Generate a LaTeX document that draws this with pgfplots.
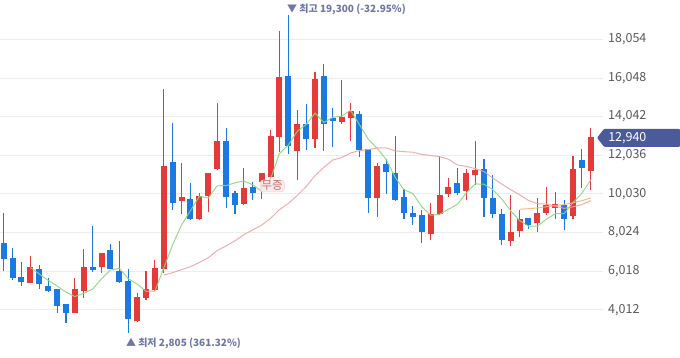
\documentclass[border=0pt]{standalone}
\usepackage{pgfplots}
\pgfplotsset{compat=1.18}
\usepackage{pgfplotstable}
\usepackage{fontspec}
\setmainfont{Noto Sans CJK KR}
\definecolor{upred}{HTML}{E53A3A}
\definecolor{dnblue}{HTML}{1B79E2}
\definecolor{maA}{HTML}{8CD67E}
\definecolor{maB}{HTML}{F2A3A3}
\definecolor{maC}{HTML}{F5B67E}
\definecolor{tagc}{HTML}{4A5A9A}
\definecolor{annc}{HTML}{6E78A8}
\definecolor{mujc}{HTML}{C86E6E}

% up (red) candles: index, open, high, low, close
\pgfplotstableread{
i o h l c
3 5428 6813 5397 6190
8 3872 5657 3860 5050
9 5013 7161 4619 6190
11 6227 6984 5947 6917
15 3442 4878 3400 4671
16 4650 6051 4531 5050
17 5050 6606 5000 6175
18 6139 15460 5947 11482
20 9682 11653 8976 9837
22 8717 10097 8680 9889
23 9926 11134 9111 11067
24 11310 14734 11250 12742
27 9510 11362 9459 10325
29 10667 11100 9770 11067
30 10927 13349 10900 13038
31 13001 18484 12223 16082
33 12275 14386 10755 13645
35 12866 16373 12431 15994
38 13748 15942 13660 14008
39 13987 14765 12778 14319
42 9837 11622 8836 11482
48 7954 9547 7643 8940
49 8992 12000 8950 9926
50 10013 10874 9889 10377
52 10200 11310 9718 11067
53 11014 12778 10496 11274
57 7607 9977 7347 8022
58 8126 9199 7783 8717
60 8509 9806 8043 8992
61 9028 10377 8940 9407
62 9319 10117 8717 9459
64 8888 12000 8717 11310
66 11238 13437 10236 12940
}\upT

% down (blue) candles: index, open, high, low, close
\pgfplotstableread{
i o h l c
0 7435 9028 6035 6657
1 6657 7212 5568 5688
2 5708 6517 5257 5480
4 6123 6331 5086 5345
5 5205 5688 4961 5013
6 5050 5117 3841 4235
7 4272 4308 3322 3872
10 6227 8369 5999 6087
12 7073 7436 6120 6139
13 5983 7591 5428 5480
14 5480 6123 2805 3530
19 11653 13696 9199 9578
21 9754 10615 8681 8717
25 12742 13468 9287 9858
26 10029 10185 8992 9474
28 10377 10667 9718 10097
32 16150 19300 12104 12519
34 13660 14682 12311 12866
36 16150 16772 12275 13645
37 13956 14474 12483 13831
40 14179 14350 11933 12296
41 12348 12363 9028 9837
43 11549 11845 10029 11155
44 11067 13038 9680 9718
45 9837 10289 8732 9028
46 9028 9407 8421 8852
47 8904 9199 7503 8074
51 10584 11362 9977 10097
54 11326 11829 8852 9837
55 9806 11014 8769 8976
56 8976 9236 7384 7643
59 8732 8750 8198 8421
63 9422 9718 8162 8717
65 11793 12348 10325 11393
}\dnT

\begin{document}
\begin{tikzpicture}
\begin{axis}[
  scale only axis, width=603pt, height=358pt,
  xmin=-0.371, xmax=67.38, ymin=1523, ymax=20092,
  clip=false,
  axis line style={draw=none},
  xtick=\empty,
  scaled y ticks=false,
  ytick={4012,6018,8024,10030,12036,14042,16048,18054},
  yticklabels={{4,012},{6,018},{8,024},{10,030},{12,036},{14,042},{16,048},{18,054}},
  yticklabel pos=right,
  major tick length=0pt,
  yticklabel style={anchor=west, inner sep=0pt, xshift=5pt, font=\fontsize{12.5}{14}\selectfont, text=black!65},
  ymajorgrids,
  grid style={color=black!7, line width=0.8pt},
  candle/.style={only marks, mark=*, mark size=0pt, mark options={draw opacity=0, fill opacity=0}},
]
% wicks
\addplot[candle, error bars/.cd, y dir=plus, y explicit, error mark=none,
  error bar style={upred, line width=1.1pt}]
  table[x=i, y=l, y error plus expr=\thisrow{h}-\thisrow{l}] \upT;
\addplot[candle, error bars/.cd, y dir=plus, y explicit, error mark=none,
  error bar style={dnblue, line width=1.1pt}]
  table[x=i, y=l, y error plus expr=\thisrow{h}-\thisrow{l}] \dnT;
% bodies
\addplot[candle, error bars/.cd, y dir=plus, y explicit, error mark=none,
  error bar style={upred, line width=6pt}]
  table[x=i, y=o, y error plus expr=\thisrow{c}-\thisrow{o}+20] \upT;
\addplot[candle, error bars/.cd, y dir=plus, y explicit, error mark=none,
  error bar style={dnblue, line width=6pt}]
  table[x=i, y=c, y error plus expr=\thisrow{o}-\thisrow{c}+20] \dnT;
% moving averages
\addplot[maA, line width=1pt, opacity=0.9] coordinates {(3,6211)(4,5872)(5,5543)(6,5253)(7,4931)(8,4703)(9,4872)(10,5087)(11,5623)(12,6077)(13,6163)(14,5631)(15,5347)(16,4974)(17,4981)(18,6182)(19,7391)(20,8424)(21,9158)(22,9901)(23,9818)(24,10450)(25,10455)(26,10606)(27,10693)(28,10499)(29,10164)(30,10800)(31,12122)(32,12561)(33,13270)(34,13630)(35,14221)(36,13734)(37,13996)(38,14069)(39,14359)(40,13620)(41,12858)(42,12388)(43,11818)(44,10898)(45,10244)(46,10047)(47,9365)(48,8922)(49,8964)(50,9234)(51,9483)(52,10081)(53,10548)(54,10530)(55,10250)(56,9759)(57,9150)(58,8639)(59,8356)(60,8359)(61,8712)(62,8999)(63,8999)(64,9577)(65,10057)(66,10764)};
\addplot[maB, line width=1pt, opacity=0.9] coordinates {(18,5815)(19,5941)(20,6100)(21,6252)(22,6472)(23,6716)(24,7086)(25,7328)(26,7590)(27,7913)(28,8165)(29,8409)(30,8757)(31,9215)(32,9534)(33,9942)(34,10409)(35,10975)(36,11405)(37,11788)(38,11914)(39,12151)(40,12274)(41,12330)(42,12410)(43,12414)(44,12263)(45,12221)(46,12190)(47,12078)(48,12020)(49,11963)(50,11830)(51,11530)(52,11458)(53,11339)(54,11188)(55,10837)(56,10537)(57,10246)(58,9982)(59,9687)(60,9522)(61,9500)(62,9399)(63,9277)(64,9357)(65,9475)(66,9679)};
\addplot[maC, line width=1pt, opacity=0.9] coordinates {(58,9237)(59,9260)(60,9299)(61,9361)(62,9427)(63,9469)(64,9569)(65,9675)(66,9820)};
% annotations
\node[anchor=west, inner sep=0pt, text=annc, font=\fontsize{10}{12}\selectfont\bfseries] at (axis cs:31.84,19625) {▼ 최고 19,300 (-32.95\%)};
\node[anchor=west, inner sep=0pt, text=annc, font=\fontsize{10}{12}\selectfont\bfseries] at (axis cs:13.73,2285) {▲ 최저 2,805 (361.32\%)};
\node[fill=maB!22, fill opacity=0.9, text opacity=1, draw=maB!55, rounded corners=3pt, inner xsep=1.5pt, inner ysep=1pt, text=mujc, font=\fontsize{11.5}{13}\selectfont] at (axis cs:30.19,10444) {무증};
\coordinate (cur) at (axis cs:66,12940);
\end{axis}
\fill[tagc, rounded corners=1pt] ([xshift=6.3pt]cur) -- ([xshift=13.3pt,yshift=9pt]cur) -- ([xshift=89.3pt,yshift=9pt]cur) -- ([xshift=89.3pt,yshift=-9pt]cur) -- ([xshift=13.3pt,yshift=-9pt]cur) -- cycle;
\node[anchor=west, inner sep=0pt, text=white, font=\fontsize{12.5}{14}\selectfont] at ([xshift=17.3pt]cur) {12,940};
\end{tikzpicture}
\end{document}
